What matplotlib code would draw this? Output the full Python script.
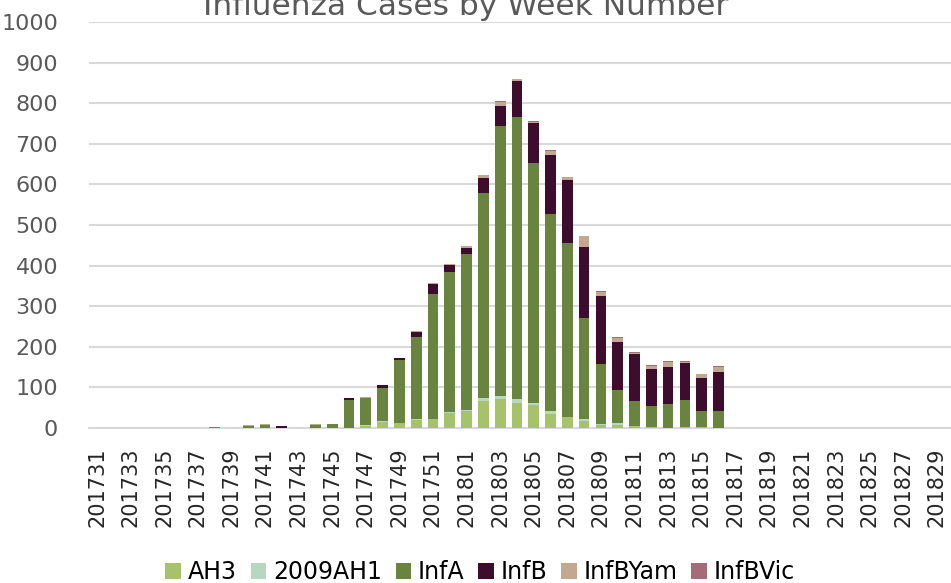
import numpy as np
import matplotlib.pyplot as plt

# Week numbers (every week shown as a bar, every other one labelled)
weeks = ['201731', '201732', '201733', '201734', '201735', '201736', '201737',
         '201738', '201739', '201740', '201741', '201742', '201743', '201744',
         '201745', '201746', '201747', '201748', '201749', '201750', '201751',
         '201752', '201801', '201802', '201803', '201804', '201805', '201806',
         '201807', '201808', '201809', '201810', '201811', '201812', '201813',
         '201814', '201815', '201816', '201817', '201818', '201819', '201820',
         '201821', '201822', '201823', '201824', '201825', '201826', '201827',
         '201828', '201829', '201830']

# Cases per subtype
ah3 = [0, 0, 0, 0, 0, 0, 0, 0, 0, 0, 0, 0, 0, 0, 0, 1, 5, 15, 12, 20, 21, 37,
       43, 67, 72, 62, 56, 35, 27, 18, 7, 8, 5, 2, 1, 2, 2, 1,
       0, 0, 0, 0, 0, 0, 0, 0, 0, 0, 0, 0, 0, 0]
ah1 = [0, 1, 0, 0, 0, 0, 0, 0, 0, 0, 0, 0, 1, 0, 0, 0, 2, 2, 1, 2, 1, 2,
       1, 6, 8, 9, 6, 7, 0, 5, 3, 4, 1, 0, 0, 0, 1, 0,
       0, 0, 0, 0, 0, 0, 0, 0, 0, 0, 0, 0, 0, 0]
infa = [0, 0, 0, 0, 0, 0, 0, 0, 0, 5, 7, 0, 0, 8, 10, 69, 68, 81, 154, 201, 307, 345,
        385, 506, 664, 695, 591, 485, 429, 248, 148, 82, 60, 52, 59, 66, 40, 42,
        0, 0, 0, 0, 0, 0, 0, 0, 0, 0, 0, 0, 0, 0]
infb = [0, 0, 0, 0, 0, 0, 0, 0, 0, 0, 0, 4, 0, 0, 0, 3, 0, 7, 5, 14, 25, 17,
        14, 37, 48, 89, 97, 145, 155, 175, 167, 118, 115, 92, 90, 92, 80, 94,
        0, 0, 0, 0, 0, 0, 0, 0, 0, 0, 0, 0, 0, 0]
infbyam = [0, 0, 0, 0, 0, 0, 0, 0, 0, 2, 2, 0, 0, 2, 0, 0, 1, 1, 0, 2, 2, 2,
           4, 6, 11, 4, 4, 10, 6, 26, 9, 9, 4, 7, 13, 2, 9, 14,
           0, 0, 0, 0, 0, 0, 0, 0, 0, 0, 0, 0, 0, 0]
infbvic = [0, 0, 0, 0, 0, 0, 0, 3, 0, 0, 1, 0, 0, 0, 0, 0, 0, 0, 0, 0, 0, 0,
           0, 1, 2, 1, 1, 2, 2, 1, 4, 2, 2, 2, 3, 2, 2, 2,
           0, 0, 0, 0, 0, 0, 0, 0, 0, 0, 0, 0, 0, 0]

series = [('AH3', ah3, '#a6c26b'),
          ('2009AH1', ah1, '#b8d7c0'),
          ('InfA', infa, '#68843f'),
          ('InfB', infb, '#3e0c2c'),
          ('InfBYam', infbyam, '#c3a791'),
          ('InfBVic', infbvic, '#a46b7b')]

fig = plt.figure(figsize=(9.51, 5.83), dpi=100)
ax = fig.add_axes([0.0932, 0.2659, 0.9184, 0.6964])

x = np.arange(len(weeks))
bottom = np.zeros(len(weeks))
for name, vals, color in series:
    ax.bar(x, vals, width=0.64, bottom=bottom, color=color, label=name, zorder=3)
    bottom += np.array(vals)

ax.set_xlim(-0.5, len(weeks) - 0.5)
ax.set_ylim(0, 1000)
ax.set_yticks(range(0, 1001, 100))
ax.set_xticks(x[::2])
ax.set_xticklabels(weeks[::2], rotation=90, fontsize=15, color='#262626')
ax.tick_params(axis='y', labelsize=16, labelcolor='#595959', length=0, pad=22)
ax.tick_params(axis='x', length=0, pad=14)

ax.grid(axis='y', color='#d9d9d9', linewidth=1.5, zorder=0)
for side in ['top', 'right', 'left']:
    ax.spines[side].set_visible(False)
ax.spines['bottom'].set_color('#d9d9d9')
ax.spines['bottom'].set_linewidth(1.5)

# title sits partly above the top edge, as in the original
fig.text(0.49, 1 - 15 / 583, 'Influenza Cases by Week Number', ha='center',
         va='baseline', fontsize=22.5, color='#595959')

fig.legend(loc='center', bbox_to_anchor=(0.505, 1 - 572 / 583), ncol=6,
           frameon=False, fontsize=17, handlelength=0.65, handleheight=0.65,
           handletextpad=0.3, columnspacing=0.58, borderaxespad=0)

fig.savefig('out.png', dpi=100)
